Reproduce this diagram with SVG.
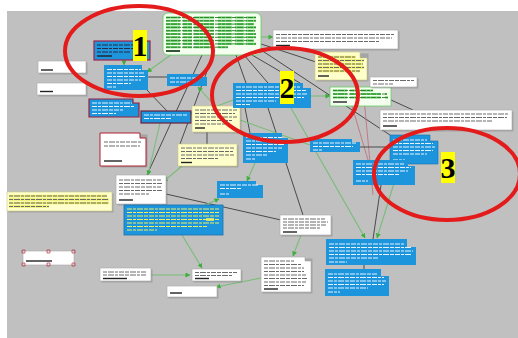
<svg xmlns="http://www.w3.org/2000/svg" width="518" height="338" viewBox="0 0 518 338">
<defs>
<style>
.bl{fill:#1d95dc}
.wh{fill:#fff;stroke:#a8a8a8;stroke-width:.6}
.ye{fill:#ffffcc;stroke:#c8c880;stroke-width:.6}
.gn{fill:#f4fff0;stroke:#6c6;stroke-width:.8}
.sh{fill:#7a7a7a;opacity:.4}
.tw{stroke:#e6f3ff;stroke-width:1.1;stroke-dasharray:5 1 3 1 6 1 4 1;fill:none}
.td{stroke:#6a6a6a;stroke-width:1;stroke-dasharray:4 1 6 1 3 1 5 1;fill:none}
.tk{stroke:#2a2a40;stroke-width:1.1;stroke-dasharray:4 1 6 1 3 1 5 1;fill:none}
.tyt{stroke:#f0f060;stroke-width:1.1;stroke-dasharray:5 1 3 1 6 1 4 1;fill:none}
.tb{stroke:#222;stroke-width:1.4;fill:none}
.hy{stroke:#eeee66;stroke-width:2.6;fill:none}
.hg{stroke:#5ccc5c;stroke-width:2.1;stroke-dasharray:14 3 9 2 20 4;fill:none}
.tgd{stroke:#2a7a2a;stroke-width:.9;stroke-dasharray:4 1 6 1 3 1 5 1;fill:none}
.c{stroke:#4a4a4a;stroke-width:1;fill:none}
.g{stroke:#76bd76;stroke-width:1.1;fill:none}
.r{stroke:#c06878;stroke-width:.8;fill:none}
.ga{marker-end:url(#ag)}
.ring{fill:none;stroke:#e41b1b;stroke-width:4}
.num{fill:#ffff00}
.nt{font-family:"Liberation Serif",serif;font-weight:bold;font-size:30px;fill:#000;text-anchor:middle}
</style>
<marker id="ag" viewBox="0 0 6 6" refX="5.5" refY="3" markerWidth="5" markerHeight="5" markerUnits="userSpaceOnUse" orient="auto">
<path d="M0,0 L6,3 L0,6 z" fill="#3fae3f"/>
</marker>
</defs>
<rect width="518" height="338" fill="#fff"/>
<rect x="7" y="11" width="511" height="327" fill="#c0c0c0"/>

<g id="connectors">
<path class="c" d="M202,55 L147,175"/>
<path class="c" d="M213,55 L180,144"/>
<path class="c" d="M236,55 L246,83"/>
<path class="c" d="M244,55 L268,83"/>
<path class="c" d="M252,55 L300,83"/>
<path class="c" d="M258,48 L390,135"/>
<path class="c" d="M258,43 L316,62"/>
<path class="g ga" d="M261,37 L273,37"/>
<path class="c" d="M245,108 L250,133"/>
<path class="c" d="M268,108 L303,215"/>
<path class="g ga" d="M291,108 L365,238"/>
<path class="g ga" d="M311,96 L330,96"/>
<path class="c" d="M391,100 L413,110"/>
<path class="r" d="M363,87 L373,195"/>
<path class="r" d="M352,106 L368,160"/>
<path class="c" d="M360,147 L390,147"/>
<path class="c" d="M381,185 L373,239"/>
<path class="g ga" d="M400,164 L377,238"/>
<path class="c" d="M364,265 L364,269"/>
<path class="g ga" d="M301,235 L293,256"/>
<path class="c" d="M166,194 L281,220"/>
<path class="g ga" d="M182,166 L163,182"/>
<path class="g ga" d="M160,123 L148,175"/>
<path class="g ga" d="M255,163 L247,181"/>
<path class="g ga" d="M205,205 L219,199"/>
<path class="g ga" d="M182,235 L202,268"/>
<path class="g ga" d="M151,275 L190,275"/>
<path class="g ga" d="M261,278 L216,287"/>
<path class="g ga" d="M124,60 L124,65"/>
<path class="c" d="M148,77 L167,77"/>
<path class="g ga" d="M172,54 L147,72"/>
<path class="g ga" d="M215,106 L198,87"/>
<path class="c" d="M147,90 L167,111"/>
<path class="g" d="M191,116 L233,100"/>
<path class="g" d="M240,120 L310,145"/>
<path class="c" d="M207,132 L207,144"/>
</g>

<g id="n-green-top">
<rect class="gn" x="163" y="13" width="98" height="42" rx="5"/>
<path class="hg" d="M166,17.5h90M166,20.8h90M166,24.1h88M166,27.4h90M166,30.7h89M166,34h90M166,37.3h90M166,40.6h88M166,43.9h90M166,47.2h62M166,51h14"/>
<path class="tgd" d="M166,17.5h90M166,20.8h90M166,24.1h88M166,27.4h90M166,30.7h89M166,34h90M166,37.3h90M166,40.6h88M166,43.9h90M166,47.2h62"/>
<path class="tb" d="M166,51h14"/>
</g>

<g id="n-1">
<rect class="bl" x="94" y="41" width="56" height="19" stroke="#a0204a" stroke-width="1.2"/>
<path class="tk" d="M97,45h50M97,48.5h48M97,52h33"/>
<path class="tb" d="M97,56h15"/>
</g>

<g id="n-a">
<path class="bl" d="M104,65H142V70H148V90H104Z"/>
<path class="tw" d="M107,69.5h34M107,73h37M107,76.5h38M107,80h34M107,83.5h24"/>
<path class="tw" d="M107,87h10"/>
</g>

<g id="n-b">
<path class="bl" d="M167,74H201V77H207V86H167Z"/>
<path class="tw" d="M170,78h30M170,82h20"/>
</g>

<g id="n-l1">
<rect class="sh" x="39.5" y="62.5" width="48" height="12"/>
<rect class="wh" x="38" y="61" width="48" height="12"/>
<path class="tb" d="M41,70h12"/>
</g>

<g id="n-l2">
<rect class="sh" x="38.5" y="84.5" width="49" height="12"/>
<rect class="wh" x="37" y="83" width="49" height="12"/>
<path class="tb" d="M40,91.5h13"/>
</g>

<g id="n-c">
<path class="bl" d="M89,99H133V103H139V117H89Z" stroke="#9c1f3f" stroke-width="1.2"/>
<path class="tw" d="M92,103h40M92,106.5h42M92,110h32M92,113.5h24"/>
</g>

<g id="n-d">
<rect class="bl" x="141" y="111" width="50" height="12" stroke="#6a2040" stroke-width="1.2"/>
<path class="tw" d="M144,115h44M144,118.5h28"/>
</g>

<g id="n-e">
<rect class="sh" x="193.5" y="107.5" width="48" height="26"/>
<rect class="ye" x="192" y="106" width="48" height="26"/>
<path class="td" d="M195,110h42M195,113.5h40M195,117h42M195,120.5h38M195,124h30"/>
<path class="tb" d="M195,128h10"/>
</g>

<g id="n-f">
<rect class="sh" x="101.5" y="134.5" width="46" height="33"/>
<path d="M100,133H140V138H146V166H100Z" fill="#fff" stroke="#b02030" stroke-width="1"/>
<path class="td" d="M104,142h38M104,146h36"/>
<path class="tb" d="M104,161h18"/>
</g>

<g id="n-g">
<rect class="sh" x="179.5" y="145.5" width="59" height="22"/>
<rect class="ye" x="178" y="144" width="59" height="22"/>
<path class="td" d="M181,148h53M181,151.5h52M181,155h53M181,158.5h38"/>
<path class="tb" d="M181,162.5h11"/>
</g>

<g id="n-h">
<path class="bl" d="M243,133H282V138H288V163H243Z"/>
<path class="tw" d="M246,137.5h36M246,141h39M246,144.5h38M246,148h36M246,151.5h30M246,155h22"/>
<path class="tw" d="M246,159h10"/>
</g>

<g id="n-i">
<rect class="gn" x="330" y="87" width="61" height="19"/>
<path class="hg" d="M333,90.5h40M333,94h54M333,97.5h55"/>
<path class="tgd" d="M333,90.5h40M333,94h54M333,97.5h55"/>
<path class="tb" d="M333,102h14"/>
</g>

<g id="n-j">
<path class="bl" d="M233,83H303V88H311V108H233Z"/>
<path class="tw" d="M236,87h64M236,90.5h70M236,94h72M236,97.5h68M236,101h40"/>
<path class="tw" d="M236,104.5h14"/>
</g>

<g id="n-k">
<rect class="sh" x="274.5" y="31.5" width="125" height="19"/>
<rect class="wh" x="273" y="30" width="125" height="19"/>
<path class="td" d="M276,34.5h118M276,38h116M276,41.5h104"/>
<path class="tb" d="M276,45.5h14"/>
</g>

<g id="n-l">
<rect class="sh" x="316.5" y="53.5" width="52" height="28"/>
<path class="ye" d="M315,52H360V58H367V80H315Z"/>
<path class="hy" d="M318,57h38M318,60.5h46M318,64h45M318,67.5h46M318,71h42"/>
<path class="td" d="M318,57h38M318,60.5h46M318,64h45M318,67.5h46M318,71h42"/>
<path class="tb" d="M318,76h11"/>
</g>

<g id="n-m">
<rect class="sh" x="371.5" y="78.5" width="47" height="10"/>
<rect class="wh" x="370" y="77" width="47" height="10"/>
<path class="td" d="M373,80.5h41M373,84h20"/>
</g>

<g id="n-n">
<rect class="sh" x="381.5" y="111.5" width="132" height="20"/>
<rect class="wh" x="380" y="110" width="132" height="20"/>
<path class="td" d="M383,114h125M383,117.5h124M383,121h110"/>
<path class="tb" d="M383,126h14"/>
</g>

<g id="n-o">
<path class="bl" d="M390,135H430V141H438V164H390Z" stroke="#1a70b0" stroke-width=".6"/>
<path class="tw" d="M393,140h34M393,143.5h40M393,147h42M393,150.5h40M393,154h34"/>
<path class="tw" d="M393,160h12"/>
</g>

<g id="n-p">
<path class="bl" d="M310,139H352V142H360V152H310Z"/>
<path class="tw" d="M313,143h44M313,146.5h40"/>
<path class="tw" d="M313,150h10"/>
</g>

<g id="n-q">
<path class="bl" d="M353,160H408V166H415V185H353Z"/>
<path class="tw" d="M356,164h48M356,167.5h55M356,171h52M356,174.5h44"/>
<path class="tw" d="M356,181h12"/>
</g>

<g id="n-r">
<rect class="sh" x="117.5" y="176.5" width="50" height="29"/>
<rect class="wh" x="116" y="175" width="50" height="29"/>
<path class="td" d="M119,180h42M119,183.5h44M119,187h42M119,190.5h44M119,194h30"/>
<path class="tb" d="M119,200h14"/>
</g>

<g id="n-s">
<rect class="sh" x="8.5" y="193.5" width="105" height="19"/>
<rect class="ye" x="7" y="192" width="105" height="19"/>
<path class="hy" d="M9,196h98M9,199.5h100M9,203h100M9,206.5h40"/>
<path class="td" d="M9,196h98M9,199.5h100M9,203h100M9,206.5h40"/>
</g>

<g id="n-t">
<path class="bl" d="M217,181H256V185H263V198H217Z"/>
<path class="tw" d="M220,185h38M220,188.5h22"/>
<path class="tw" d="M220,194h10"/>
</g>

<g id="n-u">
<rect class="bl" x="124" y="205" width="99" height="30" stroke="#1a70b0" stroke-width=".8"/>
<path class="tyt" d="M127,209h92M127,212.5h92M127,216h92M127,219.5h92M127,223h92M127,226.5h80M127,230h30"/>
<path class="hy" d="M206,219.5h8"/>
</g>

<g id="n-v">
<rect class="wh" x="23" y="251" width="51" height="14"/>
<path d="M22,250h3v3h-3zM72,250h3v3h-3zM22,263h3v3h-3zM72,263h3v3h-3zM47,250h3v3h-3zM47,263h3v3h-3z" fill="none" stroke="#b03040" stroke-width=".7"/>
<path class="tb" d="M26,261h26"/>
</g>

<g id="n-w">
<rect class="sh" x="101.5" y="269.5" width="51" height="13"/>
<rect class="wh" x="100" y="268" width="51" height="13"/>
<path class="td" d="M103,272h44M103,275h44"/>
<path class="tb" d="M103,278.5h24"/>
</g>

<g id="n-x">
<rect class="sh" x="193.5" y="270.5" width="49" height="12"/>
<rect class="wh" x="192" y="269" width="49" height="12"/>
<path class="td" d="M195,272.5h42M195,275.5h38"/>
<path class="tb" d="M195,278.5h14"/>
</g>

<g id="n-y">
<rect class="sh" x="168.5" y="287.5" width="50" height="11"/>
<rect class="wh" x="167" y="286" width="50" height="11"/>
<path class="tb" d="M170,293h12"/>
</g>

<g id="n-z">
<rect class="sh" x="281.5" y="216.5" width="51" height="20"/>
<rect class="wh" x="280" y="215" width="51" height="20"/>
<path class="td" d="M283,219h42M283,222h45M283,225h44M283,228h38"/>
<path class="tb" d="M283,232h14"/>
</g>

<g id="n-aa">
<rect class="sh" x="262.5" y="258.5" width="50" height="35"/>
<path class="wh" d="M261,257H305V261H311V292H261Z"/>
<path class="td" d="M264,261h30M264,264.5h38M264,268h40M264,271.5h40M264,275h42M264,278.5h44M264,282h42M264,285.5h40"/>
<path class="tb" d="M264,289h14"/>
</g>

<g id="n-ab">
<path class="bl" d="M326,239H407V247H416V265H326Z"/>
<path class="tw" d="M329,244h76M329,247.5h82M329,251h84M329,254.5h82M329,258h50"/>
<path class="tw" d="M329,262h18"/>
</g>

<g id="n-ac">
<path class="bl" d="M325,269H381V276H389V296H325Z"/>
<path class="tw" d="M328,274h50M328,277.5h56M328,281h58M328,284.5h56M328,288h40"/>
<path class="tw" d="M328,292h12"/>
</g>

<g id="marks">
<ellipse class="ring" cx="139" cy="51" rx="74" ry="45"/>
<ellipse class="ring" cx="285" cy="95" rx="73" ry="47"/>
<ellipse class="ring" cx="447" cy="174" rx="73" ry="46"/>
<rect class="num" x="133" y="30" width="14" height="31"/>
<text class="nt" x="140" y="56">1</text>
<rect class="num" x="280" y="71" width="14" height="33"/>
<text class="nt" x="287" y="98">2</text>
<rect class="num" x="441" y="152" width="14" height="31"/>
<text class="nt" x="448" y="178">3</text>
</g>
</svg>
